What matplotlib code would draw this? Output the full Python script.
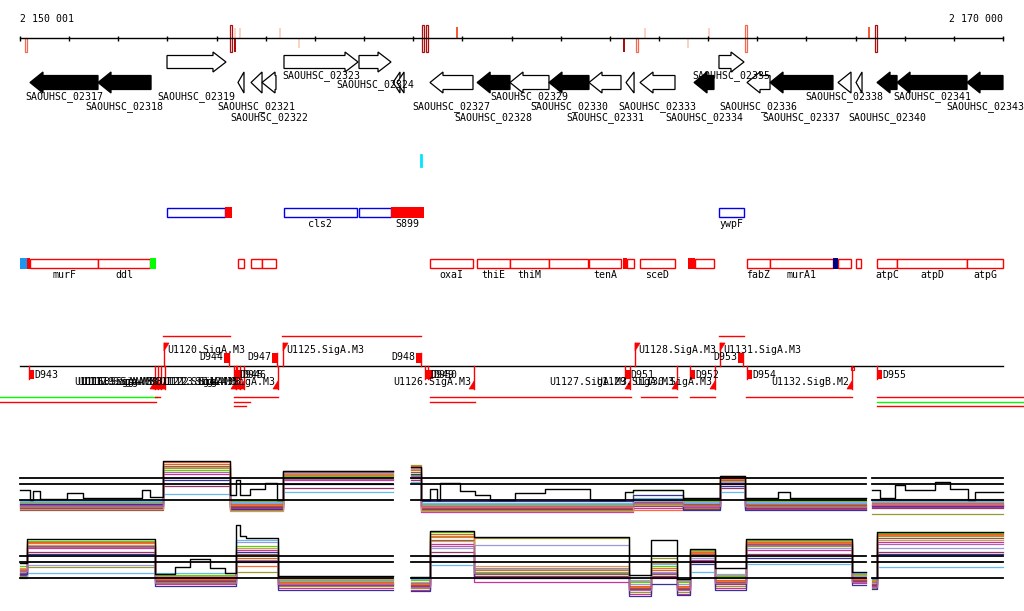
import numpy as np
import matplotlib
matplotlib.use("Agg")
import matplotlib.pyplot as plt
from matplotlib.patches import Polygon, Rectangle

START, END = 2150001, 2170000

# --- ruler marks (position, colour class, filled, side) ---
var_pos = [2150123, 2154294, 2154375, 2154375, 2154477, 2155291, 2155677, 2158200,
           2158281, 2158892, 2162289, 2162554, 2162717, 2163592, 2164019, 2164772,
           2167274, 2167416]
var_col = ["salmon", "dark", "dark", "pale", "pale", "pale", "pale", "dark",
           "dark", "tomato", "dark", "salmon", "pale", "pale", "pale", "salmon",
           "tomato", "dark"]
var_fill = [False, False, True, True, True, True, True, False,
            False, True, True, False, True, True, True, False,
            True, False]
var_side = ["below", "both", "below", "above", "above", "above", "below", "both",
            "both", "above", "below", "below", "above", "below", "above", "both",
            "above", "both"]

# --- genes ---
gene_names = ["SAOUHSC_02317", "SAOUHSC_02318", "SAOUHSC_02319", "", "SAOUHSC_02321",
              "SAOUHSC_02322", "SAOUHSC_02323", "SAOUHSC_02324", "", "",
              "SAOUHSC_02327", "SAOUHSC_02328", "SAOUHSC_02329", "SAOUHSC_02330",
              "SAOUHSC_02331", "", "SAOUHSC_02333", "SAOUHSC_02334", "SAOUHSC_02335",
              "SAOUHSC_02336", "SAOUHSC_02337", "SAOUHSC_02338", "", "SAOUHSC_02340",
              "SAOUHSC_02341", "SAOUHSC_02343"]
gene_start = [2150204, 2151588, 2152992, 2154436, 2154701, 2154925, 2155372, 2156898,
              2157590, 2157671, 2158342, 2159301, 2159970, 2160763, 2161577, 2162330,
              2162615, 2163714, 2164222, 2164792, 2165260, 2166643, 2167010, 2167437,
              2167844, 2169268]
gene_end = [2151588, 2152667, 2154192, 2154558, 2154925, 2155209, 2156878, 2157549,
            2157732, 2157814, 2159217, 2159970, 2160763, 2161577, 2162228, 2162494,
            2163327, 2164120, 2164731, 2165260, 2166541, 2166908, 2167132, 2167844,
            2169268, 2170000]
gene_strand = [-1, -1, 1, -1, -1, -1, 1, 1, -1, -1, -1, -1, -1, -1, -1, -1, -1, -1, 1,
               -1, -1, -1, -1, -1, -1, -1]
gene_black = [1, 1, 0, 0, 0, 0, 0, 0, 0, 0, 0, 1, 0, 1, 0, 0, 0, 1, 0, 0, 1, 0, 0, 1, 1, 1]

# --- blue annotation track ---
blue_start = [2152992, 2155372, 2156898, 2164222]
blue_end = [2154172, 2156857, 2157549, 2164731]
blue_label = ["", "cls2", "", "ywpF"]
redfill_start = [2154172, 2157549]
redfill_end = [2154314, 2158222]
redfill_label = ["", "S899"]
cyan_pos = 2158160

# --- red annotation track ---
box_start = [2150214, 2151588, 2154436, 2154701, 2154925, 2158342, 2159301, 2159970,
             2160763, 2161577, 2162351, 2162615, 2163734, 2164792, 2165260, 2166643,
             2167010, 2167437, 2167844, 2169268]
box_end = [2151588, 2152646, 2154558, 2154925, 2155209, 2159217, 2159970, 2160763,
           2161557, 2162228, 2162494, 2163327, 2164120, 2165260, 2166541, 2166908,
           2167112, 2167844, 2169268, 2170000]
box_label = ["murF", "ddl", "", "", "", "oxaI", "thiE", "thiM", "", "tenA", "", "sceD",
             "", "fabZ", "murA1", "", "", "atpC", "atpD", "atpG"]
fill_start = [2150001, 2150143, 2152646, 2162270, 2163592, 2166541]
fill_end = [2150143, 2150214, 2152768, 2162351, 2163734, 2166643]
fill_color = ["#1e96f0", "#ff0000", "#00ff00", "#ff0000", "#ff0000", "#000080"]

# --- transcription units ---
tu_up_start = [2152910, 2155331, 2164222]
tu_up_end = [2154273, 2158160, 2164731]
tu_dn_start = [2149500, 2152748, 2149500, 2154355, 2154355, 2154355, 2158342, 2158342,
               2162636, 2163632, 2164771, 2167437, 2167437, 2167437]
tu_dn_end = [2152788, 2152849, 2152768, 2155250, 2154680, 2154599, 2162433, 2159261,
             2163368, 2164141, 2166928, 2170500, 2170500, 2170500]
tu_dn_lane = [0, 0, 1, 0, 1, 2, 0, 1, 0, 0, 0, 0, 1, 2]
tu_dn_color = ["#00ff00", "red", "red", "red", "red", "red", "red", "red", "red", "red",
               "red", "red", "#00ff00", "red"]

prom_up_name = ["U1120.SigA.M3", "U1125.SigA.M3", "U1128.SigA.M3", "U1131.SigA.M3"]
prom_up_pos = [2152930, 2155352, 2162514, 2164243]
prom_dn_name = ["U1116.SigA.M3", "U1117.SigA.M3", "U1118.SigA.M3", "U1119.SigA.M3",
                "U1121.SigA.M3", "U1122.SigA.M3", "U1123.SigA.M3", "U1124.SigA.M3",
                "U1126.SigA.M3", "U1127.SigA.M3", "U1129.SigA.M3", "U1130.SigA.M3",
                "U1132.SigB.M2"]
prom_dn_pos = [2152748, 2152809, 2152869, 2152950, 2154396, 2154477, 2154558, 2155250,
               2159240, 2162412, 2163368, 2164141, 2166928]

term_up_name = ["D944", "D947", "D948", "D953"]
term_up_start = [2154151, 2155128, 2158058, 2164609]
term_dn_name = ["D943", "D945", "D946", "D949", "D950", "D951", "D952", "D954", "D955"]
term_dn_start = [2150184, 2154355, 2154416, 2158240, 2158302, 2162310, 2163632,
                 2164792, 2167437]

# --- expression profiles (log2), one row per segment, one column per sample ---
sample_colors = ["#d2691e", "#999933", "#8b5742", "#66cc00", "#cc3399", "#9999dd",
                 "#993366", "#ff6633", "#66bbee", "#333399", "#cc9966", "#aa66aa"]
thresholds = [8.2, 7.6, 6.0]
expr_blocks = [(2150001, 2157590), (2157956, 2167213), (2167335, 2170000)]

up_segs = [(2150001, 2152910), (2152910, 2154273), (2154273, 2155352), (2155352, 2157590),
           (2157956, 2158160), (2158160, 2162473), (2162473, 2163490), (2163490, 2164243),
           (2164243, 2164751), (2164751, 2167213), (2167335, 2170000)]
up_vals = [
    [5.6, 5.3, 5.0, 5.8, 5.5, 5.7, 5.2, 5.4, 5.9, 5.6, 5.1, 5.45],
    [9.6, 9.2, 9.4, 9.0, 8.6, 8.2, 7.4, 9.8, 6.6, 8.0, 9.3, 8.8],
    [5.6, 5.0, 5.4, 5.9, 5.2, 5.7, 5.3, 5.5, 5.8, 5.1, 4.9, 6.0],
    [8.8, 8.6, 8.9, 8.4, 8.0, 8.7, 7.2, 8.5, 6.8, 7.6, 8.3, 8.1],
    [9.0, 9.5, 8.8, 8.5, 8.2, 9.2, 8.0, 9.4, 7.8, 8.6, 9.1, 8.4],
    [5.4, 5.0, 5.2, 5.6, 4.8, 5.5, 5.1, 5.3, 5.7, 5.9, 4.9, 5.45],
    [6.0, 5.6, 5.8, 7.0, 5.2, 5.9, 5.4, 5.0, 6.2, 6.5, 5.5, 5.7],
    [5.5, 5.2, 5.6, 5.9, 5.3, 5.7, 5.1, 5.4, 5.8, 5.0, 6.0, 5.45],
    [8.4, 8.2, 8.0, 8.3, 7.6, 7.8, 7.2, 8.1, 6.8, 7.4, 7.9, 8.3],
    [5.6, 5.3, 5.5, 5.9, 5.1, 5.7, 5.2, 5.4, 5.8, 5.0, 6.0, 5.45],
    [5.7, 4.6, 5.5, 6.0, 5.3, 5.8, 5.2, 5.6, 5.9, 5.4, 6.1, 5.5],
]
# reference profile (black), finer segments
up_black_edges = [2150001, 2150204, 2150265, 2150408, 2150957, 2151283, 2152483, 2152646,
                  2152910, 2154273, 2154396, 2154477, 2154680, 2154986, 2155230, 2155352,
                  2157590, None, 2157956, 2158160, 2158342, 2158485, 2158546, 2158953,
                  2159258, 2159563, 2160072, 2160682, 2161598, 2162310, 2162473, 2163490,
                  2164243, 2164751, 2165423, 2165667, 2167213, None, 2167335, 2167498,
                  2167803, 2168006, 2168617, 2168922, 2169288, 2169430, 2170000]
up_black_vals = [7.0, 6.0, 6.9, 6.1, 6.7, 6.2, 7.0, 6.3, 9.9, 6.5, 8.0, 6.5, 7.1, 7.7,
                 6.0, 8.9, 9.3, 6.0, 7.1, 6.0, 7.7, 6.9, 6.5, 6.0, 6.7, 7.1, 6.0, 6.8,
                 7.0, 6.2, 8.4, 6.2, 6.8, 6.2, 7.0, 6.2, 7.5, 7.0, 7.8, 7.1, 6.0, 6.8]

dn_segs = [(2150001, 2150143), (2150143, 2152748), (2152748, 2154396), (2154396, 2155250),
           (2155250, 2157590), (2157956, 2158342), (2158342, 2159240), (2159240, 2162392),
           (2162392, 2162839), (2162839, 2163368), (2163368, 2163632), (2163632, 2164141),
           (2164141, 2164771), (2164771, 2166928), (2166928, 2167213), (2167335, 2167437),
           (2167437, 2170000)]
dn_vals = [
    [6.8, 6.2, 6.5, 7.2, 6.0, 6.6, 6.3, 6.9, 6.1, 6.4, 7.0, 6.7],
    [9.6, 7.1, 9.2, 9.7, 9.0, 7.3, 8.6, 9.5, 6.5, 8.4, 9.3, 9.1],
    [6.0, 5.6, 5.8, 6.3, 5.4, 6.1, 5.7, 5.9, 6.5, 5.2, 6.2, 5.5],
    [8.0, 6.6, 8.4, 9.2, 8.8, 9.6, 7.6, 7.2, 9.8, 8.6, 9.0, 7.8],
    [5.6, 5.2, 5.4, 5.8, 5.0, 5.7, 5.3, 5.5, 6.0, 4.8, 5.9, 5.45],
    [5.5, 5.0, 5.3, 5.8, 4.8, 5.6, 5.2, 5.4, 5.9, 4.7, 6.0, 5.1],
    [10.4, 10.1, 9.8, 10.6, 9.4, 9.0, 8.6, 10.2, 7.3, 8.2, 9.7, 9.2],
    [6.8, 10.0, 6.4, 6.6, 5.6, 9.3, 6.2, 7.0, 6.9, 6.0, 7.2, 6.5],
    [5.2, 4.6, 5.0, 5.6, 4.4, 5.4, 4.9, 5.1, 5.8, 4.2, 5.7, 4.8],
    [6.8, 8.0, 6.4, 7.2, 6.0, 6.6, 6.2, 7.0, 7.4, 5.4, 7.5, 6.5],
    [5.2, 4.6, 5.0, 5.6, 4.4, 5.4, 4.9, 5.1, 5.8, 4.3, 5.7, 4.8],
    [8.6, 8.2, 8.4, 8.8, 7.8, 8.0, 7.6, 8.5, 6.6, 7.4, 8.7, 8.3],
    [5.8, 5.2, 5.6, 6.2, 5.0, 6.0, 5.4, 5.7, 6.4, 4.8, 6.3, 5.5],
    [9.6, 9.2, 9.4, 9.8, 8.8, 9.0, 8.4, 9.5, 7.4, 8.0, 9.7, 9.3],
    [6.0, 5.6, 5.8, 6.4, 5.5, 6.2, 5.7, 5.9, 6.5, 5.3, 6.3, 5.6],
    [5.6, 5.0, 5.4, 5.8, 5.2, 5.5, 5.3, 5.7, 5.9, 4.9, 6.0, 5.1],
    [10.4, 10.2, 10.0, 10.5, 9.6, 9.0, 8.6, 10.3, 7.1, 8.4, 9.8, 9.4],
]
dn_black_edges = [2150001, 2150143, 2152748, 2153155, 2153460, 2153867, 2154172, 2154396,
                  2154477, 2154599, 2155250, 2157590, None, 2157956, 2158342, 2159240,
                  2162392, 2162839, 2163368, 2163632, 2164141, 2164771, 2166928, 2167213,
                  None, 2167335, 2167437, 2170000]
dn_black_vals = [7.5, 9.9, 6.4, 7.1, 7.9, 7.0, 6.5, 11.3, 10.2, 10.0, 6.2, 6.1, 10.7,
                 10.1, 6.3, 9.8, 5.9, 8.9, 7.0, 9.9, 6.6, 6.0, 10.6]

# ---------------------------------------------------------------------------
W, H = 1024, 611
bpp = (END - START) / 983.0
XLIM = (START - 20 * bpp, START + 1004 * bpp)
FONT = dict(family="DejaVu Sans Mono", fontsize=7.1)

fig = plt.figure(figsize=(W / 100, H / 100), dpi=100)
ax = fig.add_axes([0, 0, 1, 1])
ax.set_xlim(*XLIM)
ax.set_ylim(H, 0)
ax.axis("off")


def txt(x, y, s, ha="center"):
    ax.text(x, y, s, ha=ha, va="center", color="black", **FONT)


# ruler
ax.plot([START, END], [38, 38], color="black", lw=1)
ticks = list(range(START, END, 1000)) + [END]
ax.vlines(ticks, 35.5, 40.5, color="black", lw=1)
txt(START, 19, "2 150 001", ha="left")
txt(END, 19, "2 170 000", ha="right")

col_map = {"dark": "#a81010", "salmon": "#f06a50", "tomato": "#f25a3a", "pale": "#f8d4c4"}
for p, c, f, s in zip(var_pos, var_col, var_fill, var_side):
    if s == "both":
        y0, y1 = 25, 52
    elif s == "above":
        y0, y1 = (28, 38) if c == "pale" else (26.5, 38)
    else:
        y0, y1 = (38, 48) if c == "pale" else (38, 52)
    w = 2.2 * bpp
    if f:
        ax.add_patch(Rectangle((p - w / 2, y0), w, y1 - y0, facecolor=col_map[c],
                               edgecolor="none"))
    else:
        ax.add_patch(Rectangle((p - w / 2, y0), w, y1 - y0, facecolor="white",
                               edgecolor=col_map[c], lw=0.9))

# genes
label_row = [97, 107, 97, None, 107, 118, 76, 85, None, None, 107, 118, 97, 107, 118,
             None, 107, 118, 76, 107, 118, 97, None, 118, 97, 107]
for n, s, e, st, b, ly in zip(gene_names, gene_start, gene_end, gene_strand,
                              gene_black, label_row):
    if st > 0:
        ym, hh, bh = 62, 10, 6.5
    else:
        ym, hh, bh = 82.5, 10.5, 7
    head = min(13 * bpp, e - s)
    if st > 0:
        hx = e - head
        pts = [(s, ym - bh), (hx, ym - bh), (hx, ym - hh), (e, ym), (hx, ym + hh),
               (hx, ym + bh), (s, ym + bh)]
    else:
        hx = s + head
        pts = [(e, ym - bh), (hx, ym - bh), (hx, ym - hh), (s, ym), (hx, ym + hh),
               (hx, ym + bh), (e, ym + bh)]
    ax.add_patch(Polygon(pts, closed=True, facecolor="black" if b else "white",
                         edgecolor="black", lw=0.9))
    if n:
        txt((s + e) / 2, ly, n)

# blue track
ax.plot([cyan_pos, cyan_pos], [155, 166], color="#00e5ff", lw=2)
for s, e, n in zip(blue_start, blue_end, blue_label):
    ax.add_patch(Rectangle((s, 207.5), e - s, 9.5, facecolor="white", edgecolor="#0000ee",
                           lw=1))
    if n:
        txt((s + e) / 2, 224, n)
for s, e, n in zip(redfill_start, redfill_end, redfill_label):
    ax.add_patch(Rectangle((s, 207), e - s, 10.5, facecolor="#ff0000", edgecolor="none"))
    if n:
        txt((s + e) / 2, 224, n)

# red track
for s, e, n in zip(box_start, box_end, box_label):
    ax.add_patch(Rectangle((s, 258.5), e - s, 9.5, facecolor="white", edgecolor="#ff0000",
                           lw=1))
    if n:
        txt((s + e) / 2, 275, n)
for s, e, c in zip(fill_start, fill_end, fill_color):
    ax.add_patch(Rectangle((s, 258), e - s, 10.5, facecolor=c, edgecolor="none"))

# transcription units
ax.plot([START, END], [366, 366], color="black", lw=1)
for s, e in zip(tu_up_start, tu_up_end):
    ax.plot([s, e], [336, 336], color="red", lw=1)
lane_y = [397, 401.5, 406]
for s, e, l, c in zip(tu_dn_start, tu_dn_end, tu_dn_lane, tu_dn_color):
    ax.plot([s, e], [lane_y[l], lane_y[l]], color=c, lw=1)

fw = 5 * bpp
for n, p in zip(prom_up_name, prom_up_pos):
    ax.plot([p, p], [366, 343], color="red", lw=1)
    ax.add_patch(Polygon([(p, 343), (p + fw, 343), (p, 351)], facecolor="red",
                         edgecolor="red", lw=0.5))
    txt(p + 3 * bpp, 350, n, ha="left")
for n, p in zip(prom_dn_name, prom_dn_pos):
    ax.plot([p, p], [366, 389], color="red", lw=1)
    ax.add_patch(Polygon([(p, 389), (p - fw, 389), (p, 381)], facecolor="red",
                         edgecolor="red", lw=0.5))
    txt(p - 3 * bpp, 382, n, ha="right")

for n, s in zip(term_up_name, term_up_start):
    ax.add_patch(Rectangle((s, 353), fw, 10, facecolor="red", edgecolor="none"))
    ax.plot([s + fw, s + fw], [353, 366], color="red", lw=1)
    txt(s - 0.5 * bpp, 357, n, ha="right")
for n, s in zip(term_dn_name, term_dn_start):
    ax.add_patch(Rectangle((s, 370), fw, 9, facecolor="red", edgecolor="none"))
    ax.plot([s, s], [366, 379], color="red", lw=1)
    txt(s + fw, 375, n, ha="left")
ax.add_patch(Rectangle((prom_dn_pos[-1] - 1.5 * bpp, 366.5), 3 * bpp, 3.5,
                       facecolor="white", edgecolor="red", lw=0.8))


# expression panels
def series(segs, vals):
    xs, ys, prev = [], [], None
    for (s, e), v in zip(segs, vals):
        if prev is not None and s != prev:
            xs.append(np.nan)
            ys.append(np.nan)
        xs += [s, e]
        ys += [v, v]
        prev = e
    return xs, ys


def edge_segs(edges):
    segs = []
    for a, b in zip(edges[:-1], edges[1:]):
        if a is not None and b is not None:
            segs.append((a, b))
    return segs


def panel(top_px, segs, vals, black_edges, black_vals):
    pax = fig.add_axes([0, (H - top_px - 80) / H, 1, 80 / H])
    pax.set_xlim(*XLIM)
    pax.set_ylim(4, 12)
    pax.axis("off")
    arr = np.array(vals)
    for i, c in enumerate(sample_colors):
        xs, ys = series(segs, arr[:, i])
        pax.plot(xs, ys, color=c, lw=0.9)
    xs, ys = series(edge_segs(black_edges), black_vals)
    pax.plot(xs, ys, color="black", lw=1.0)
    for t in thresholds:
        for s, e in expr_blocks:
            pax.plot([s, e], [t, t], color="black", lw=1.3)


panel(440, up_segs, up_vals, up_black_edges, up_black_vals)
panel(518, dn_segs, dn_vals, dn_black_edges, dn_black_vals)

fig.savefig("out.png", dpi=100, facecolor="white")
